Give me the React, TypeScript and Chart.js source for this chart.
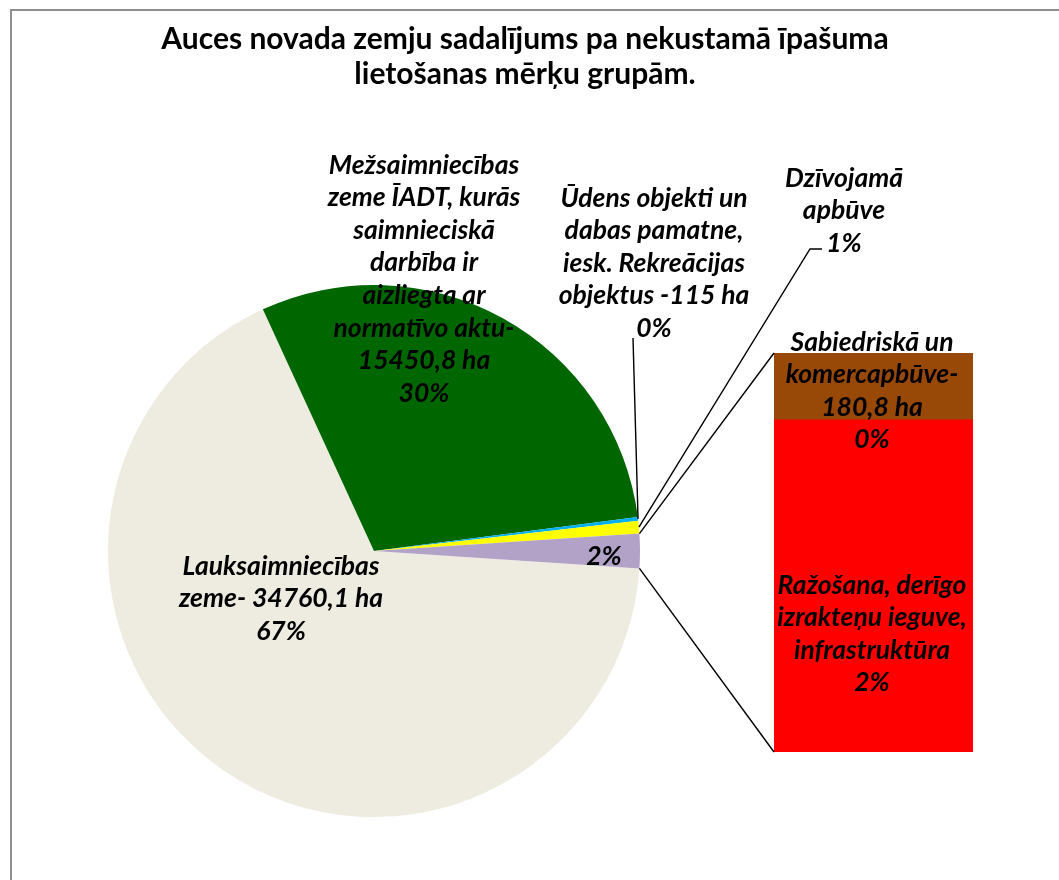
import React, { useEffect, useRef } from "react";
import { Chart, registerables } from "chart.js";

Chart.register(...registerables);

// ---------- data ----------
const titleLines = [
  "Auces novada zemju sadalījums pa nekustamā īpašuma",
  "lietošanas mērķu grupām.",
];

const pieCategories = [
  "Lauksaimniecības zeme",
  "Mežsaimniecības zeme ĪADT, kurās saimnieciskā darbība ir aizliegta ar normatīvo aktu",
  "Ūdens objekti un dabas pamatne, iesk. Rekreācijas objektus",
  "Dzīvojamā apbūve",
  "Citi",
];
const pieValues = [34760.1, 15450.8, 115, 400];

const barCategories = [
  "Ražošana, derīgo izrakteņu ieguve, infrastruktūra",
  "Sabiedriskā un komercapbūve",
];
const barValues = [900, 180.8];

const otherValue = barValues.reduce((a, b) => a + b, 0);
const pieData = [...pieValues, otherValue];
const total = pieData.reduce((a, b) => a + b, 0);

const pieColors = ["#EEECE1", "#006600", "#00B0F0", "#FFFF00", "#B3A2C7"];
const barColors = ["#FF0000", "#984807"];

const pieLabelLines = [
  ["Lauksaimniecības", "zeme- 34760,1 ha"],
  ["Mežsaimniecības", "zeme ĪADT, kurās", "saimnieciskā", "darbība ir", "aizliegta ar", "normatīvo aktu-", "15450,8 ha"],
  ["Ūdens objekti un", "dabas pamatne,", "iesk. Rekreācijas", "objektus -115 ha"],
  ["Dzīvojamā", "apbūve"],
  [],
];
const barLabelLines = [
  ["Ražošana, derīgo", "izrakteņu ieguve,", "infrastruktūra"],
  ["Sabiedriskā un", "komercapbūve-", "180,8 ha"],
];

// ---------- layout (annotation placement only) ----------
const W = 1059;
const H = 880;
const FONT_FAMILY = "Lato, 'Open Sans', sans-serif";
const TITLE_FONT = `bold 30px ${FONT_FAMILY}`;
const LABEL_FONT = `italic bold 26.5px ${FONT_FAMILY}`;
const LINE_H = 32.6;
const titlePos = { x: 525, y: 39, lh: 35 };
const pieLabelPos = [
  { x: 281, y: 566 },
  { x: 424, y: 165 },
  { x: 654, y: 198 },
  { x: 844, y: 178 },
  { x: 604, y: 556 },
];
const barLabelPos = [
  { x: 872, y: 585 },
  { x: 872, y: 342 },
];
const udensLeaderStart = { x: 633, y: 338 };
const dzivLeader = [
  { x: 822, y: 249 },
  { x: 810, y: 249 },
];

const pct = (v: number) => Math.round((v / total) * 100) + "%";

function drawLines(ctx: CanvasRenderingContext2D, lines: string[], x: number, y: number, lh: number) {
  lines.forEach((t, i) => ctx.fillText(t, x, y + i * lh));
}

function arcPoint(el: any, which: "mid" | "start" | "end") {
  const p = el.getProps(["x", "y", "startAngle", "endAngle", "outerRadius"], true);
  const a = which === "mid" ? (p.startAngle + p.endAngle) / 2 : which === "start" ? p.startAngle : p.endAngle;
  return { x: p.x + p.outerRadius * Math.cos(a), y: p.y + p.outerRadius * Math.sin(a) };
}

export default function App() {
  const pieRef = useRef<HTMLCanvasElement | null>(null);
  const barRef = useRef<HTMLCanvasElement | null>(null);

  useEffect(() => {
    if (!pieRef.current || !barRef.current) return;

    const otherAngle = (otherValue / total) * 360;

    const pieDecor = {
      id: "pieDecor",
      afterDraw(chart: any) {
        const ctx: CanvasRenderingContext2D = chart.ctx;
        const arcs = chart.getDatasetMeta(0).data;
        ctx.save();
        ctx.fillStyle = "#000";
        ctx.textAlign = "center";
        ctx.textBaseline = "middle";
        ctx.font = TITLE_FONT;
        drawLines(ctx, titleLines, titlePos.x, titlePos.y, titlePos.lh);

        ctx.strokeStyle = "#000";
        ctx.lineWidth = 1.4;
        const u = arcPoint(arcs[2], "mid");
        ctx.beginPath();
        ctx.moveTo(udensLeaderStart.x, udensLeaderStart.y);
        ctx.lineTo(u.x, u.y);
        ctx.stroke();
        const d = arcPoint(arcs[3], "mid");
        ctx.beginPath();
        ctx.moveTo(dzivLeader[0].x, dzivLeader[0].y);
        ctx.lineTo(dzivLeader[1].x, dzivLeader[1].y);
        ctx.lineTo(d.x, d.y);
        ctx.stroke();

        ctx.font = LABEL_FONT;
        pieData.forEach((v, i) => {
          const lines = [...pieLabelLines[i], pct(v)];
          drawLines(ctx, lines, pieLabelPos[i].x, pieLabelPos[i].y, LINE_H);
        });
        ctx.restore();
      },
    };

    const pie = new Chart(pieRef.current, {
      type: "pie",
      data: {
        labels: pieCategories,
        datasets: [
          {
            data: pieData,
            backgroundColor: pieColors,
            borderWidth: 0,
            hoverOffset: 0,
          },
        ],
      },
      options: {
        responsive: false,
        animation: false,
        rotation: 90 + otherAngle / 2,
        layout: { padding: { left: 108, right: 419, top: 285, bottom: 63 } },
        plugins: { legend: { display: false }, tooltip: { enabled: false }, title: { display: false } },
      },
      plugins: [pieDecor],
    });

    const barDecor = {
      id: "barDecor",
      afterDraw(chart: any) {
        const ctx: CanvasRenderingContext2D = chart.ctx;
        const otherArc = pie.getDatasetMeta(0).data[4];
        const bottomBar: any = chart.getDatasetMeta(0).data[0];
        const topBar: any = chart.getDatasetMeta(1).data[0];
        const tb = topBar.getProps(["x", "y", "width", "base"], true);
        const bb = bottomBar.getProps(["x", "y", "width", "base"], true);
        const pTop = arcPoint(otherArc, "start");
        const pBot = arcPoint(otherArc, "end");
        ctx.save();
        ctx.strokeStyle = "#000";
        ctx.lineWidth = 1.4;
        ctx.beginPath();
        ctx.moveTo(pTop.x, pTop.y);
        ctx.lineTo(tb.x - tb.width / 2, tb.y);
        ctx.moveTo(pBot.x, pBot.y);
        ctx.lineTo(bb.x - bb.width / 2, bb.base);
        ctx.stroke();

        ctx.fillStyle = "#000";
        ctx.textAlign = "center";
        ctx.textBaseline = "middle";
        ctx.font = LABEL_FONT;
        barValues.forEach((v, i) => {
          const lines = [...barLabelLines[i], pct(v)];
          drawLines(ctx, lines, barLabelPos[i].x, barLabelPos[i].y, LINE_H);
        });
        ctx.restore();
      },
    };

    const bar = new Chart(barRef.current, {
      type: "bar",
      data: {
        labels: ["Citi"],
        datasets: barValues.map((v, i) => ({
          label: barCategories[i],
          data: [v],
          backgroundColor: barColors[i],
          borderWidth: 0,
          barPercentage: 1,
          categoryPercentage: 1,
        })),
      },
      options: {
        responsive: false,
        animation: false,
        layout: { padding: { left: 774, right: 86, top: 353, bottom: 128 } },
        scales: {
          x: { display: false, stacked: true },
          y: { display: false, stacked: true, min: 0, max: otherValue },
        },
        plugins: { legend: { display: false }, tooltip: { enabled: false }, title: { display: false } },
      },
      plugins: [barDecor],
    });

    return () => {
      bar.destroy();
      pie.destroy();
    };
  }, []);

  return (
    <div
      style={{
        position: "fixed",
        left: 0,
        top: 0,
        width: W,
        height: H,
        overflow: "hidden",
        background: "#fff",
      }}
    >
      <div
        style={{
          position: "absolute",
          left: 10,
          top: 9,
          width: 1200,
          height: 1000,
          border: "2px solid #8f8f8f",
        }}
      />
      <canvas ref={pieRef} width={W} height={H} style={{ position: "absolute", left: 0, top: 0, width: W, height: H }} />
      <canvas ref={barRef} width={W} height={H} style={{ position: "absolute", left: 0, top: 0, width: W, height: H }} />
    </div>
  );
}
